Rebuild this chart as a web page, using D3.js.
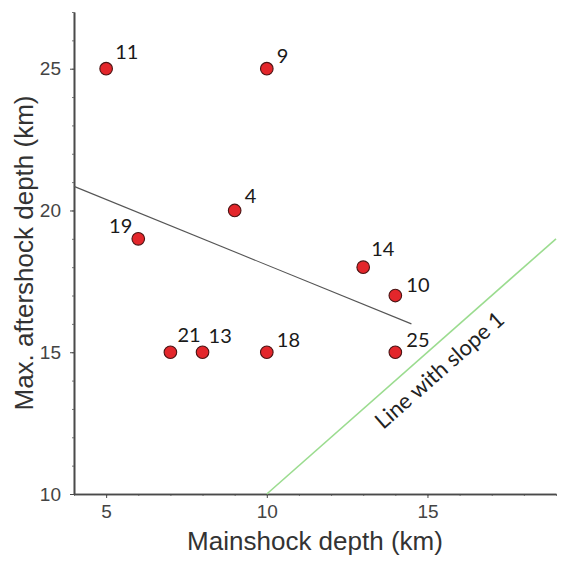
<!DOCTYPE html>
<html>
<head>
<meta charset="utf-8">
<script src="https://cdn.jsdelivr.net/npm/d3@7"></script>
<style>
  html, body { margin: 0; padding: 0; background: #fff; }
  svg { display: block; }
</style>
</head>
<body>
<svg id="chart" width="563" height="561"></svg>
<script>
// Earthquake depth data: mainshock depth vs. maximum aftershock depth (km)
const eventIds       = ["11", "9", "4", "19", "14", "10", "21", "13", "18", "25"];
const mainshockDepth = [5, 10, 9, 6, 13, 14, 7, 8, 10, 14];
const aftershockMax  = [25, 25, 20, 19, 18, 17, 15, 15, 15, 15];

// Fitted trend line endpoints
const trendX = [4, 14.5];
const trendY = [20.85, 16.0];

// Reference line with slope 1
const slopeOneX = [10, 19];
const slopeOneY = [10, 19];

const xTicks = [5, 10, 15];
const yTicks = [10, 15, 20, 25];

const xDomain = [4, 19];
const yDomain = [10, 27];

// Label placement per event (offset from point centre)
const labelOffset = {
  "11": [9, -10, "start"],
  "9":  [10, -6, "start"],
  "4":  [10, -7, "start"],
  "19": [-6, -6, "end"],
  "14": [8, -11, "start"],
  "10": [11, -4, "start"],
  "21": [7, -10, "start"],
  "13": [6, -9, "start"],
  "18": [10, -5, "start"],
  "25": [11, -5, "start"]
};

const svg = d3.select("#chart");
const plotLeft = 74, plotRight = 556, plotTop = 12, plotBottom = 494;

const x = d3.scaleLinear().domain(xDomain).range([plotLeft, plotRight]);
const y = d3.scaleLinear().domain(yDomain).range([plotBottom, plotTop]);

const axisColor = "#4a4a4a";
const tickFont = "Liberation Sans, Arial, sans-serif";
const labelFont = "Lato, 'Open Sans', sans-serif";

// Minor ticks every 1 km
const xMinor = d3.range(xDomain[0], xDomain[1] + 1, 1);
const yMinor = d3.range(yDomain[0], yDomain[1] + 1, 1);

const gx = svg.append("g").attr("transform", `translate(0,${plotBottom})`);
gx.call(d3.axisBottom(x).tickValues(xMinor).tickSize(2).tickSizeOuter(0).tickFormat(""));
gx.selectAll(".tick line").attr("stroke", "#777");
const gx2 = svg.append("g").attr("transform", `translate(0,${plotBottom})`);
gx2.call(d3.axisBottom(x).tickValues(xTicks).tickSize(4).tickSizeOuter(0).tickPadding(7).tickFormat(d3.format("d")));
[gx, gx2].forEach(g => g.select(".domain").attr("stroke", axisColor).attr("stroke-width", 1.6));
gx2.selectAll(".tick line").attr("stroke", axisColor);
gx2.selectAll("text")
  .attr("font-family", tickFont).attr("font-size", 19).attr("fill", "#444");

const gy = svg.append("g").attr("transform", `translate(${plotLeft},0)`);
gy.call(d3.axisLeft(y).tickValues(yMinor).tickSize(2).tickSizeOuter(0).tickFormat(""));
gy.selectAll(".tick line").attr("stroke", "#777");
const gy2 = svg.append("g").attr("transform", `translate(${plotLeft},0)`);
gy2.call(d3.axisLeft(y).tickValues(yTicks).tickSize(4).tickSizeOuter(0).tickPadding(9).tickFormat(d3.format("d")));
[gy, gy2].forEach(g => g.select(".domain").attr("stroke", axisColor).attr("stroke-width", 1.6));
gy2.selectAll(".tick line").attr("stroke", axisColor);
gy2.selectAll("text")
  .attr("font-family", tickFont).attr("font-size", 19).attr("fill", "#444");

// Slope-1 reference line
const line = d3.line().x(d => x(d[0])).y(d => y(d[1]));
svg.append("path")
  .datum(d3.zip(slopeOneX, slopeOneY))
  .attr("d", line)
  .attr("fill", "none")
  .attr("stroke", "#9bdc8f")
  .attr("stroke-width", 1.6);

// Trend line
svg.append("path")
  .datum(d3.zip(trendX, trendY))
  .attr("d", line)
  .attr("fill", "none")
  .attr("stroke", "#555")
  .attr("stroke-width", 1.1);

// Rotated label along the slope-1 line
const angle = Math.atan2(y(slopeOneY[0]) - y(slopeOneY[1]), x(slopeOneX[1]) - x(slopeOneX[0])) * 180 / Math.PI;
const anchorVal = 15.4;
svg.append("text")
  .attr("transform", `translate(${x(anchorVal)},${y(anchorVal)}) rotate(${-angle})`)
  .attr("x", -20).attr("y", 29)
  .attr("text-anchor", "middle")
  .attr("font-family", labelFont)
  .attr("font-size", 22)
  .attr("fill", "#222")
  .text("Line with slope 1");

// Points
const pts = d3.range(eventIds.length).map(i => ({
  id: eventIds[i], mx: mainshockDepth[i], ay: aftershockMax[i]
}));

svg.append("g").selectAll("circle")
  .data(pts).join("circle")
  .attr("cx", d => x(d.mx))
  .attr("cy", d => y(d.ay))
  .attr("r", 6.3)
  .attr("fill", "#e3262b")
  .attr("stroke", "#4a1414")
  .attr("stroke-width", 1.1);

svg.append("g").selectAll("text")
  .data(pts).join("text")
  .attr("x", d => x(d.mx) + labelOffset[d.id][0])
  .attr("y", d => y(d.ay) + labelOffset[d.id][1])
  .attr("text-anchor", d => labelOffset[d.id][2])
  .attr("font-family", labelFont)
  .attr("font-size", 20)
  .attr("fill", "#1a1a1a")
  .text(d => d.id);

// Axis titles
svg.append("text")
  .attr("x", (plotLeft + plotRight) / 2).attr("y", 550)
  .attr("text-anchor", "middle")
  .attr("font-family", tickFont).attr("font-size", 26).attr("fill", "#333")
  .text("Mainshock depth (km)");

svg.append("text")
  .attr("transform", `translate(33,${(plotTop + plotBottom) / 2}) rotate(-90)`)
  .attr("text-anchor", "middle")
  .attr("font-family", tickFont).attr("font-size", 26).attr("fill", "#333")
  .text("Max. aftershock depth (km)");
</script>
</body>
</html>
